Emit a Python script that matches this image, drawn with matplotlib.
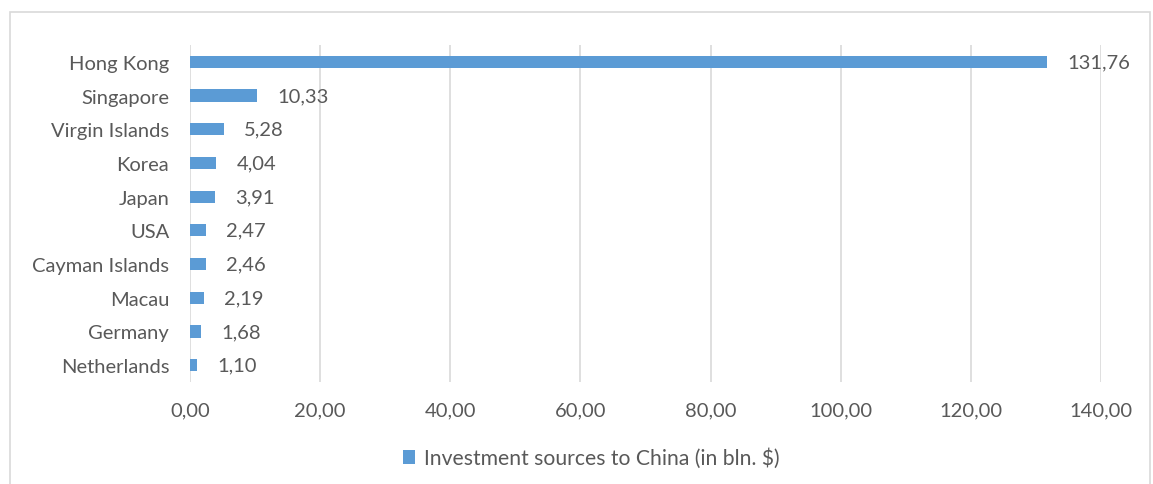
import matplotlib
matplotlib.use("Agg")
import matplotlib.pyplot as plt
from matplotlib.patches import Rectangle

countries = ["Hong Kong", "Singapore", "Virgin Islands", "Korea", "Japan", "USA",
             "Cayman Islands", "Macau", "Germany", "Netherlands"]
values = [131.76, 10.33, 5.28, 4.04, 3.91, 2.47, 2.46, 2.19, 1.68, 1.10]
xticks = [0, 20, 40, 60, 80, 100, 120, 140]
series_name = "Investment sources to China (in bln. $)"

plt.rcParams['font.family'] = ['Lato', 'DejaVu Sans']
txt = '#595959'
bar_color = '#5B9BD5'
fs = 14.5

W, H = 1153, 485
fig = plt.figure(figsize=(W / 100, H / 100), dpi=100)
# chart border
fig.patches.append(Rectangle((10 / W, -0.1), (1150 - 10) / W, (H - 13) / H + 0.1,
                             transform=fig.transFigure, fill=False,
                             edgecolor='#D9D9D9', linewidth=1.2))

ax = fig.add_axes([190 / W, 1 - 383 / H, (1101 - 190) / W, (383 - 46) / H])
y = list(range(len(countries)))
ax.barh(y, values, height=0.36, color=bar_color, label=series_name, zorder=3)
ax.set_ylim(len(countries) - 0.5, -0.5)
ax.set_xlim(0, 140)
ax.set_xticks(xticks)
ax.set_xticklabels([f"{v:.2f}".replace('.', ',') for v in xticks], fontsize=fs, color=txt)
ax.set_yticks(y)
ax.set_yticklabels(countries, fontsize=fs, color=txt)
ax.tick_params(axis='both', length=0)
ax.tick_params(axis='x', pad=14)
ax.tick_params(axis='y', pad=15)
ax.grid(axis='x', color='#D9D9D9', linewidth=1.2, zorder=0)
for s in ax.spines.values():
    s.set_visible(False)

for yi, v in zip(y, values):
    ax.annotate(f"{v:.2f}".replace('.', ','), (v, yi), xytext=(20, 0),
                textcoords='offset pixels',
                va='center', ha='left', fontsize=fs, color=txt)

fig.legend(loc='center', bbox_to_anchor=(591 / W, 1 - 459 / H), frameon=False,
           fontsize=15.2, labelcolor=txt, handlelength=0.6, handleheight=0.6,
           handletextpad=0.4)

fig.savefig("out.png", dpi=100)
